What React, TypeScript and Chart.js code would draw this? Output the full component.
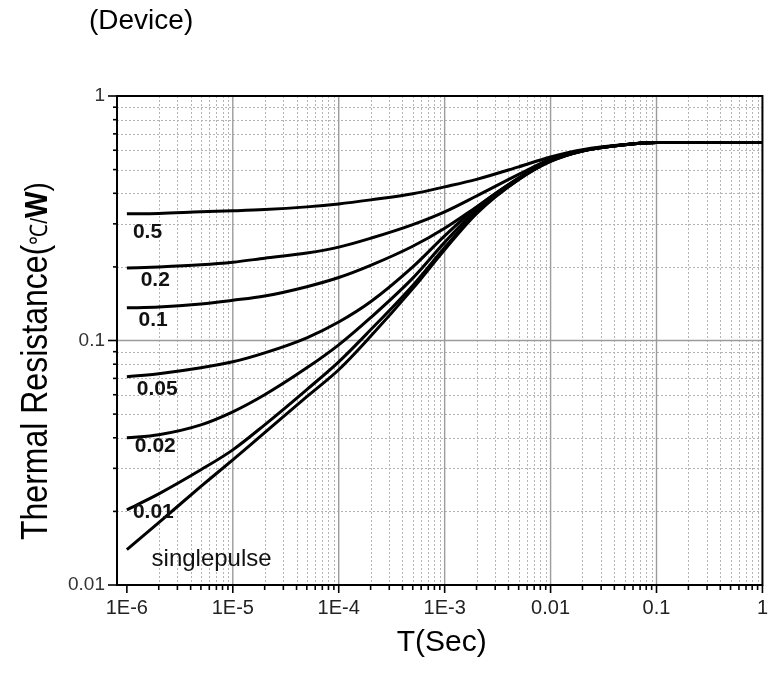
import React, { useEffect, useRef } from "react";
import { Chart, registerables } from "chart.js";

Chart.register(...registerables);

// ---------- data ----------
const xValues = [1e-6, 2e-6, 5e-6, 1e-5, 2e-5, 5e-5, 1e-4, 2e-4, 5e-4, 1e-3, 2e-3, 5e-3, 1e-2, 2e-2, 5e-2, 0.1, 1];

const duty05 = [0.33, 0.331, 0.336, 0.339, 0.343, 0.352, 0.362, 0.376, 0.398, 0.425, 0.456, 0.513, 0.563, 0.603, 0.633, 0.645, 0.645];
const duty02 = [0.198, 0.2, 0.204, 0.209, 0.217, 0.228, 0.241, 0.262, 0.298, 0.336, 0.39, 0.478, 0.552, 0.598, 0.632, 0.645, 0.645];
const duty01 = [0.136, 0.137, 0.141, 0.146, 0.152, 0.166, 0.181, 0.203, 0.243, 0.288, 0.352, 0.462, 0.546, 0.597, 0.632, 0.645, 0.645];
const duty005 = [0.0711, 0.0731, 0.0773, 0.0818, 0.089, 0.1026, 0.119, 0.144, 0.2, 0.268, 0.35, 0.462, 0.545, 0.597, 0.632, 0.645, 0.645];
const duty002 = [0.04, 0.0412, 0.0452, 0.0511, 0.06, 0.0773, 0.096, 0.124, 0.18, 0.252, 0.342, 0.458, 0.543, 0.596, 0.632, 0.645, 0.645];
const duty001 = [0.0203, 0.0236, 0.0296, 0.0357, 0.0452, 0.063, 0.0818, 0.1106, 0.168, 0.24, 0.335, 0.456, 0.541, 0.596, 0.632, 0.645, 0.645];
const singlePulse = [0.01395, 0.018, 0.0253, 0.0325, 0.042, 0.0589, 0.0759, 0.104, 0.163, 0.235, 0.33, 0.455, 0.54, 0.596, 0.632, 0.645, 0.645];

const seriesNames = ["0.5", "0.2", "0.1", "0.05", "0.02", "0.01", "singlepulse"];
const seriesValues = [duty05, duty02, duty01, duty005, duty002, duty001, singlePulse];

// curve label anchors (data units)
const labelTexts = ["0.5", "0.2", "0.1", "0.05", "0.02", "0.01", "singlepulse"];
const labelX = [1.14e-6, 1.35e-6, 1.29e-6, 1.24e-6, 1.19e-6, 1.14e-6, 1.71e-6];
const labelY = [0.278, 0.177, 0.121, 0.0635, 0.0368, 0.0198, 0.0127];

const xMajorValues = [1e-6, 1e-5, 1e-4, 1e-3, 1e-2, 1e-1, 1];
const xTickLabels = ["1E-6", "1E-5", "1E-4", "1E-3", "0.01", "0.1", "1"];
const yMajorValues = [0.01, 0.1, 1];
const yTickLabels = ["0.01", "0.1", "1"];

const X_MIN = 8.07e-7;
const X_MAX = 1;
const Y_MIN = 0.01;
const Y_MAX = 1;

const titleText = "(Device)";
const xTitle = "T(Sec)";
const FONT = '"Liberation Sans", Arial, Helvetica, sans-serif';

// ---------- helpers ----------
function logTicks(min: number, max: number) {
  const out: { value: number; major: boolean }[] = [];
  const e0 = Math.floor(Math.log10(min));
  const e1 = Math.ceil(Math.log10(max));
  for (let e = e0; e <= e1; e++) {
    for (let m = 1; m <= 9; m++) {
      const v = parseFloat((m * Math.pow(10, e)).toPrecision(6));
      if (v >= min * 0.9999 && v <= max * 1.0001) out.push({ value: v, major: m === 1 });
    }
  }
  return out;
}

function labelFor(v: number, majors: number[], labels: string[]) {
  for (let i = 0; i < majors.length; i++) {
    if (Math.abs(Math.log10(v) - Math.log10(majors[i])) < 1e-6) return labels[i];
  }
  return "";
}

const gridPlugin = {
  id: "logGrid",
  beforeDatasetsDraw(chart: any) {
    const { ctx, chartArea, scales } = chart;
    const { left, right, top, bottom } = chartArea;
    const x = scales.x;
    const y = scales.y;
    ctx.save();
    ctx.strokeStyle = "#b4b4b4";
    ctx.lineWidth = 1;
    ctx.setLineDash([2, 2]);
    for (const t of x.ticks) {
      if (t.major) continue;
      const px = Math.round(x.getPixelForValue(t.value)) + 0.5;
      if (px <= left + 1 || px >= right - 1) continue;
      ctx.beginPath();
      ctx.moveTo(px, top);
      ctx.lineTo(px, bottom);
      ctx.stroke();
    }
    for (const t of y.ticks) {
      if (t.major) continue;
      const py = Math.round(y.getPixelForValue(t.value)) + 0.5;
      if (py <= top + 1 || py >= bottom - 1) continue;
      ctx.beginPath();
      ctx.moveTo(left, py);
      ctx.lineTo(right, py);
      ctx.stroke();
    }
    ctx.setLineDash([]);
    ctx.strokeStyle = "#9c9c9c";
    ctx.lineWidth = 1.4;
    for (const t of x.ticks) {
      if (!t.major) continue;
      const px = x.getPixelForValue(t.value);
      if (px <= left + 12 || px >= right - 2) continue;
      ctx.beginPath();
      ctx.moveTo(px, top);
      ctx.lineTo(px, bottom);
      ctx.stroke();
    }
    for (const t of y.ticks) {
      if (!t.major) continue;
      const py = y.getPixelForValue(t.value);
      if (py <= top + 2 || py >= bottom - 2) continue;
      ctx.beginPath();
      ctx.moveTo(left, py);
      ctx.lineTo(right, py);
      ctx.stroke();
    }
    ctx.restore();
  },
  afterDatasetsDraw(chart: any) {
    const { ctx, chartArea, scales } = chart;
    const { left, right, top, bottom } = chartArea;
    const x = scales.x;
    const y = scales.y;
    ctx.save();
    ctx.strokeStyle = "#000";
    ctx.lineWidth = 2;
    ctx.strokeRect(left, top, right - left, bottom - top);
    ctx.lineWidth = 1.6;
    for (const t of x.ticks) {
      const px = x.getPixelForValue(t.value);
      const len = t.major ? 8 : 5;
      ctx.beginPath();
      ctx.moveTo(px, bottom);
      ctx.lineTo(px, bottom + len);
      ctx.stroke();
    }
    for (const t of y.ticks) {
      const py = y.getPixelForValue(t.value);
      const len = t.major ? 9 : 4;
      ctx.beginPath();
      ctx.moveTo(left, py);
      ctx.lineTo(left - len, py);
      ctx.stroke();
    }
    ctx.fillStyle = "#111";
    ctx.textBaseline = "middle";
    ctx.textAlign = "left";
    for (let i = 0; i < labelTexts.length; i++) {
      const txt = labelTexts[i];
      ctx.font = txt === "singlepulse" ? `24px ${FONT}` : `bold 21px ${FONT}`;
      ctx.fillText(txt, x.getPixelForValue(labelX[i]), y.getPixelForValue(labelY[i]));
    }
    ctx.restore();
  },
  afterDraw(chart: any) {
    const { ctx, chartArea } = chart;
    ctx.save();
    ctx.fillStyle = "#000";
    ctx.textBaseline = "alphabetic";
    ctx.textAlign = "left";
    ctx.font = `28px ${FONT}`;
    ctx.fillText(titleText, 89, 29);
    ctx.textAlign = "center";
    ctx.font = `30px ${FONT}`;
    ctx.fillText(xTitle, (chartArea.left + chartArea.right) / 2 + 2, 651);
    // y title (rotated)
    ctx.translate(47, 540);
    ctx.rotate(-Math.PI / 2);
    ctx.scale(1, 1.15);
    ctx.textAlign = "left";
    const pieces = [
      { text: "Thermal Resistance(", font: `32px ${FONT}` },
      { text: "\u2103", font: `21px ${FONT}` },
      { text: "/", font: `21px ${FONT}` },
      { text: "W", font: `bold 28px ${FONT}` },
      { text: ")", font: `28px ${FONT}` },
    ];
    let cx = 0;
    for (const p of pieces) {
      ctx.font = p.font;
      ctx.fillText(p.text, cx, 0);
      cx += ctx.measureText(p.text).width;
    }
    ctx.restore();
  },
};

export default function App() {
  const ref = useRef<HTMLCanvasElement>(null);
  useEffect(() => {
    const datasets = seriesValues.map((vals, i) => ({
      label: seriesNames[i],
      data: xValues.map((xv, j) => ({ x: xv, y: vals[j] })),
      borderColor: "#000",
      backgroundColor: "#000",
      borderWidth: 3,
      pointRadius: 0,
      fill: false,
      cubicInterpolationMode: "monotone" as const,
    }));
    const chart = new Chart(ref.current!, {
      type: "line",
      data: { datasets },
      plugins: [gridPlugin],
      options: {
        animation: false,
        responsive: true,
        maintainAspectRatio: false,
        layout: { padding: { left: 0, top: 96, right: 8, bottom: 0 } },
        plugins: {
          legend: { display: false },
          tooltip: { enabled: false },
          title: { display: false },
        },
        scales: {
          x: {
            type: "logarithmic",
            min: X_MIN,
            max: X_MAX,
            bounds: "data",
            grid: { display: false, drawTicks: false },
            border: { display: false },
            afterBuildTicks: (s: any) => {
              s.ticks = logTicks(1e-6, X_MAX);
            },
            afterFit: (s: any) => {
              s.height = 92;
            },
            ticks: {
              autoSkip: false,
              maxRotation: 0,
              minRotation: 0,
              padding: 11,
              color: "#222",
              font: { family: FONT, size: 20 },
              callback: (v: any) => labelFor(Number(v), xMajorValues, xTickLabels),
            },
          },
          y: {
            type: "logarithmic",
            min: Y_MIN,
            max: Y_MAX,
            bounds: "data",
            grid: { display: false, drawTicks: false },
            border: { display: false },
            afterBuildTicks: (s: any) => {
              s.ticks = logTicks(Y_MIN, Y_MAX);
            },
            afterFit: (s: any) => {
              s.width = 117;
            },
            ticks: {
              autoSkip: false,
              padding: 12,
              color: "#333",
              font: { family: FONT, size: 19 },
              callback: (v: any) => labelFor(Number(v), yMajorValues, yTickLabels),
            },
          },
        },
      },
    });
    return () => chart.destroy();
  }, []);
  return (
    <div style={{ position: "absolute", left: 0, top: 0, width: 779, height: 677, background: "#fff" }}>
      <canvas ref={ref} />
    </div>
  );
}
